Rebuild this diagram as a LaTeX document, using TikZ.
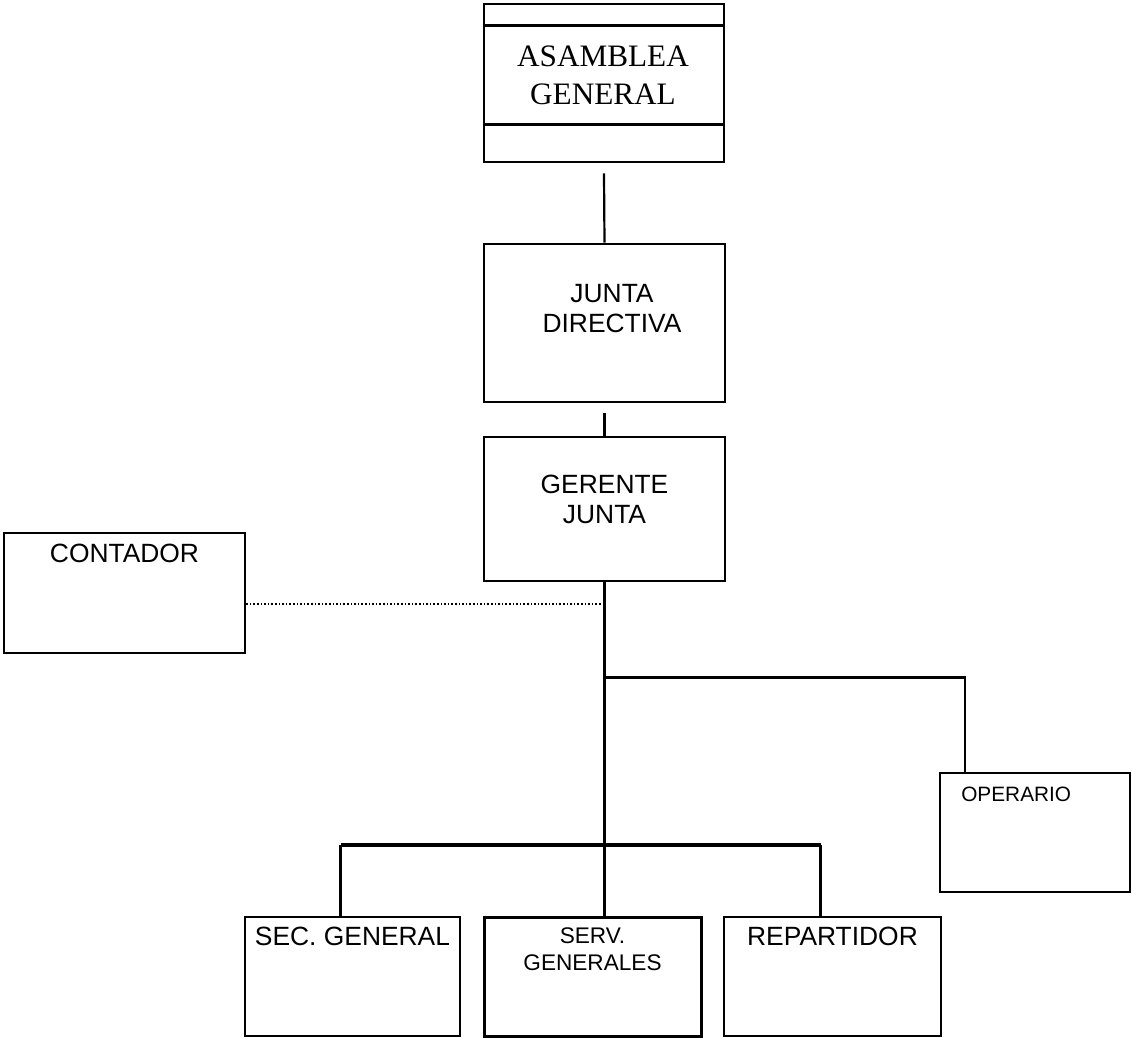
\documentclass[tikz,border=0pt]{standalone}
\usepackage{fontspec}
\setmainfont{Liberation Serif}
\setsansfont{Liberation Sans}
\usepackage{tikz}
\usetikzlibrary{calc}

\tikzset{
  bigbox/.style={draw, line width=1.4pt, inner sep=0pt},
  smallbox/.style={draw, line width=1.1pt, inner sep=0pt},
  link/.style={line width=1.1pt},
  busline/.style={line width=2pt},
  lbl/.style={inner sep=0pt, anchor=north, align=center, font=\sffamily\fontsize{13.2}{15}\selectfont},
}

\begin{document}
\begin{tikzpicture}[x=0.5pt, y=-0.5pt]
  \useasboundingbox (0, 0) rectangle (1132, 1038);

  \node [bigbox, minimum width=120pt, minimum height=79pt] (asamblea) at (604, 83) {};
  \node [bigbox, minimum width=120.5pt, minimum height=79pt] (junta) at (604.5, 323) {};
  \node [bigbox, minimum width=120.5pt, minimum height=72pt] (gerente) at (604.5, 509) {};
  \node [smallbox, minimum width=120.5pt, minimum height=60pt] (contador) at (124.5, 593) {};
  \node [smallbox, minimum width=95pt, minimum height=59.5pt] (operario) at (1035, 832.5) {};
  \node [smallbox, minimum width=107.5pt, minimum height=59.5pt] (secgeneral) at (352.5, 976.5) {};
  \node [bigbox, line width=1.5pt, minimum width=108.5pt, minimum height=59.5pt] (servgen) at (592.5, 976.5) {};
  \node [smallbox, minimum width=108.5pt, minimum height=59.5pt] (repartidor) at (832.5, 976.5) {};

  \draw [line width=1.2pt] ($(asamblea.north west)+(0, 23)$) -- ($(asamblea.north east)+(0, 23)$);
  \draw [line width=1.2pt] ($(asamblea.south west)+(0, -39)$) -- ($(asamblea.south east)+(0, -39)$);

  \node [lbl, font=\rmfamily\fontsize{15.6}{19}\selectfont] (asamblealbl) at ($(asamblea.north)+(-1, 43)$) {ASAMBLEA\\GENERAL};
  \node [lbl] (juntalbl) at ($(junta.north)+(7.5, 41)$) {JUNTA\\DIRECTIVA};
  \node [lbl] (gerentelbl) at ($(gerente.north)+(0, 39)$) {GERENTE\\JUNTA};
  \node [lbl] (contadorlbl) at ($(contador.north)+(0, 12)$) {CONTADOR};
  \node [lbl, anchor=north west, font=\sffamily\fontsize{10.4}{12}\selectfont] (operariolbl) at ($(operario.north west)+(22, 15)$) {OPERARIO};
  \node [lbl] (seclbl) at ($(secgeneral.north)+(0, 11)$) {SEC. GENERAL};
  \node [lbl, font=\sffamily\fontsize{11.3}{13.5}\selectfont] (servlbl) at ($(servgen.north)+(0, 12)$) {SERV.\\GENERALES};
  \node [lbl] (replbl) at ($(repartidor.north)+(0, 11)$) {REPARTIDOR};

  \coordinate (dots) at ($(contador.east)+(0, 11)$);
  \coordinate (opbranch) at ($(gerente.south)+(0, 95)$);
  \coordinate (opin) at ($(operario.north)+(-70, 0)$);
  \coordinate (bus) at ($(gerente.south)+(0, 263)$);
  \coordinate (secin) at ($(secgeneral.north)+(-12, 0)$);
  \coordinate (repin) at ($(repartidor.north)+(-12, 0)$);

  \draw [link] ($(asamblea.south)+(0, 10)$) -- (junta.north);
  \draw [link] ($(junta.south)+(0, 10)$) -- (gerente.north);
  \draw [link] (gerente.south) -- (gerente.south |- servgen.north);
  \draw [line width=0.8pt, densely dotted] (dots) -- (dots -| gerente.south);
  \draw [link] (opbranch) -| (opin);
  \draw [busline] (secin |- bus) -- (repin |- bus);
  \draw [link] (secin |- bus) -- (secin);
  \draw [link] (repin |- bus) -- (repin);
\end{tikzpicture}
\end{document}
